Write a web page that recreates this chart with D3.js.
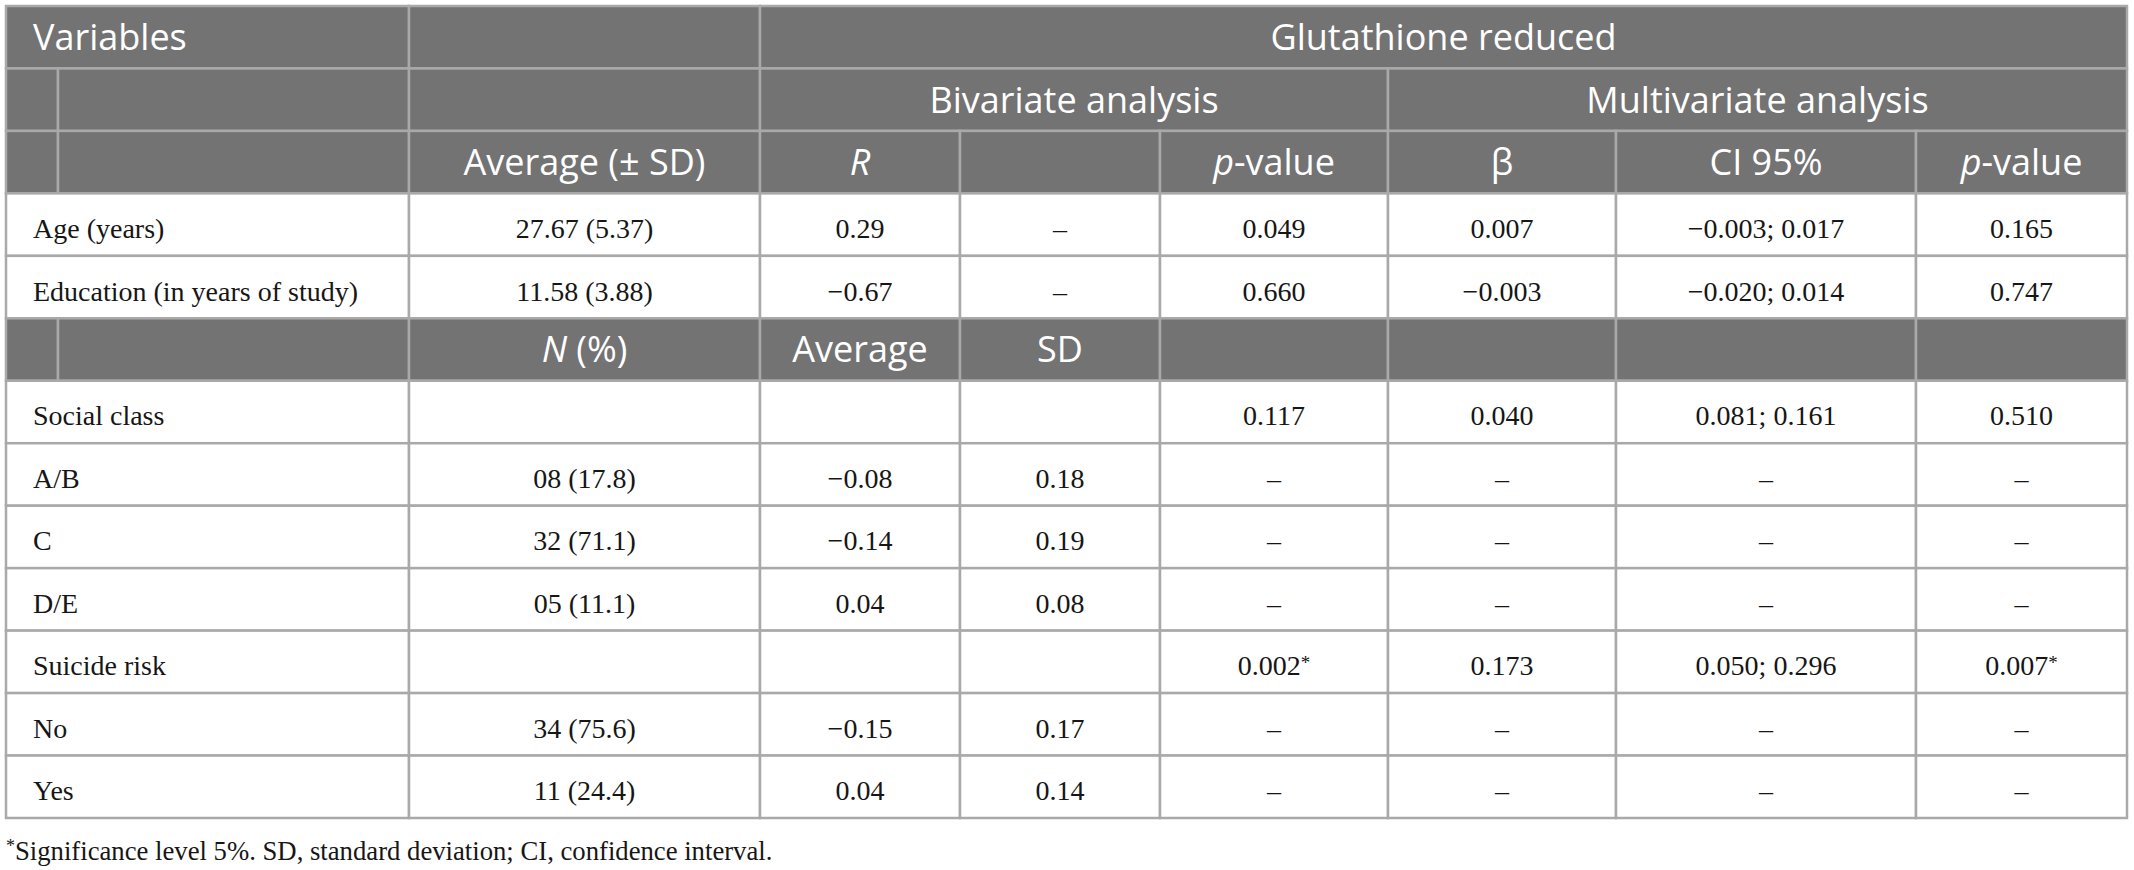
<!DOCTYPE html>
<html lang="en">
<head>
<meta charset="utf-8">
<title>Glutathione reduced table</title>
<script src="https://cdn.jsdelivr.net/npm/d3@7"></script>
<style>
  body { margin: 0; background: #fff; }
</style>
</head>
<body>
<script>
// --- data ---------------------------------------------------------------
var continuousVars = ["Age (years)", "Education (in years of study)"];
var continuousAvg = ["27.67 (5.37)", "11.58 (3.88)"];
var continuousR = ["0.29", "\u22120.67"];
var continuousP = ["0.049", "0.660"];
var continuousBeta = ["0.007", "\u22120.003"];
var continuousCI = ["\u22120.003; 0.017", "\u22120.020; 0.014"];
var continuousPm = ["0.165", "0.747"];

var categVars = ["Social class", "A/B", "C", "D/E", "Suicide risk", "No", "Yes"];
var categN = ["", "08 (17.8)", "32 (71.1)", "05 (11.1)", "", "34 (75.6)", "11 (24.4)"];
var categAvg = ["", "\u22120.08", "\u22120.14", "0.04", "", "\u22120.15", "0.04"];
var categSD = ["", "0.18", "0.19", "0.08", "", "0.17", "0.14"];
var categP = ["0.117", "\u2013", "\u2013", "\u2013", "0.002*", "\u2013", "\u2013"];
var categBeta = ["0.040", "\u2013", "\u2013", "\u2013", "0.173", "\u2013", "\u2013"];
var categCI = ["0.081; 0.161", "\u2013", "\u2013", "\u2013", "0.050; 0.296", "\u2013", "\u2013"];
var categPm = ["0.510", "\u2013", "\u2013", "\u2013", "0.007*", "\u2013", "\u2013"];

var footnote = "*Significance level 5%. SD, standard deviation; CI, confidence interval.";

// --- layout -------------------------------------------------------------
var w = 2134, h = 870;
var colEdges = [6, 58, 409, 760, 960, 1160, 1388, 1616, 1916, 2127];
var nRows = 13;
var headFill = "#737373", lineCol = "#a9a9a9";
var sans = "'Open Sans', 'Noto Sans', sans-serif";
var serif = "'Liberation Serif', 'Times New Roman', serif";

var y = d3.scaleLinear().domain([0, nRows]).range([6, 818]);
var x = function(c) { return colEdges[c]; };

// build rows: each cell = {c0, c1, text, left, parts}
function cell(c0, c1, text, opt) {
    opt = opt || {};
    return { c0: c0, c1: c1, text: text, left: !!opt.left, parts: opt.parts };
}
var rows = [];
rows.push({ head: true, cells: [
    cell(0, 2, "Variables", { left: true }), cell(2, 3, ""), cell(3, 9, "Glutathione reduced")] });
rows.push({ head: true, cells: [
    cell(0, 1, ""), cell(1, 2, ""), cell(2, 3, ""),
    cell(3, 6, "Bivariate analysis"), cell(6, 9, "Multivariate analysis")] });
rows.push({ head: true, cells: [
    cell(0, 1, ""), cell(1, 2, ""), cell(2, 3, "Average (\u00b1 SD)"),
    cell(3, 4, "", { parts: [["R", true]] }), cell(4, 5, ""),
    cell(5, 6, "", { parts: [["p", true], ["-value", false]] }),
    cell(6, 7, "\u03b2"), cell(7, 8, "CI 95%"),
    cell(8, 9, "", { parts: [["p", true], ["-value", false]] })] });
continuousVars.forEach(function(v, i) {
    rows.push({ head: false, cells: [
        cell(0, 2, v, { left: true }), cell(2, 3, continuousAvg[i]), cell(3, 4, continuousR[i]),
        cell(4, 5, "\u2013"), cell(5, 6, continuousP[i]), cell(6, 7, continuousBeta[i]),
        cell(7, 8, continuousCI[i]), cell(8, 9, continuousPm[i])] });
});
rows.push({ head: true, cells: [
    cell(0, 1, ""), cell(1, 2, ""),
    cell(2, 3, "", { parts: [["N", true], [" (%)", false]] }),
    cell(3, 4, "Average"), cell(4, 5, "SD"), cell(5, 6, ""), cell(6, 7, ""),
    cell(7, 8, ""), cell(8, 9, "")] });
categVars.forEach(function(v, i) {
    rows.push({ head: false, cells: [
        cell(0, 2, v, { left: true }), cell(2, 3, categN[i]), cell(3, 4, categAvg[i]),
        cell(4, 5, categSD[i]), cell(5, 6, categP[i]), cell(6, 7, categBeta[i]),
        cell(7, 8, categCI[i]), cell(8, 9, categPm[i])] });
});

// --- draw ---------------------------------------------------------------
var svg = d3.select("body").append("svg")
    .attr("width", w)
    .attr("height", h);

var rowG = svg.selectAll("g.row")
    .data(rows)
    .enter()
    .append("g")
    .attr("class", "row");

rowG.each(function(r, ri) {
    var g = d3.select(this);
    var y0 = y(ri), y1 = y(ri + 1);
    var cells = g.selectAll("g.cell")
        .data(r.cells)
        .enter()
        .append("g")
        .attr("class", "cell");
    cells.append("rect")
        .attr("x", function(d) { return x(d.c0); })
        .attr("y", y0)
        .attr("width", function(d) { return x(d.c1) - x(d.c0); })
        .attr("height", y1 - y0)
        .attr("fill", r.head ? headFill : "#fff")
        .attr("stroke", lineCol)
        .attr("stroke-width", 2.5);
    var t = cells.append("text")
        .attr("x", function(d) { return d.left ? 33 : (x(d.c0) + x(d.c1)) / 2; })
        .attr("y", (y0 + y1) / 2)
        .attr("dy", r.head ? "0.36em" : "0.48em")
        .attr("text-anchor", function(d) { return d.left ? "start" : "middle"; })
        .attr("fill", r.head ? "#fff" : "#161616")
        .style("font-family", r.head ? sans : serif)
        .style("font-size", r.head ? "36px" : "28px");
    t.each(function(d) {
        var el = d3.select(this);
        if (d.parts) {
            d.parts.forEach(function(p) {
                el.append("tspan").text(p[0]).style("font-style", p[1] ? "italic" : "normal");
            });
        } else if (/\*$/.test(d.text)) {
            el.append("tspan").text(d.text.slice(0, -1));
            el.append("tspan").text("*").attr("dy", "-0.35em").style("font-size", "19px");
        } else {
            el.text(d.text);
        }
    });
});

var fn = svg.append("text")
    .attr("x", 6)
    .attr("y", 857)
    .attr("fill", "#161616")
    .style("font-family", serif)
    .style("font-size", "26.7px");
fn.append("tspan").text("*").attr("dy", "-0.3em").style("font-size", "18px");
fn.append("tspan").text(footnote.slice(1)).attr("dy", "0.3em");
</script>
</body>
</html>
